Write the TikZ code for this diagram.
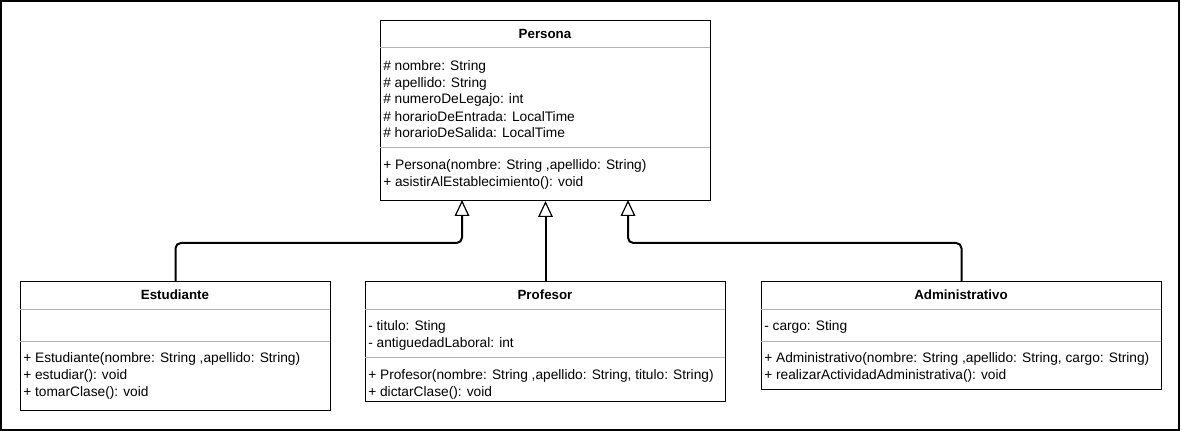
\documentclass[tikz,border=0pt]{standalone}
\usepackage{fontspec}
\setmainfont{Liberation Sans}
\usetikzlibrary{arrows.meta}
\begin{document}
\begin{tikzpicture}[x=0.75pt,y=-0.75pt,
  classbox/.style={draw,line width=0.75pt,anchor=north west,inner sep=0pt},
  divider/.style={black!30,line width=0.75pt},
  classname/.style={yshift=-0.8pt,font=\bfseries\fontsize{10}{11}\selectfont},
  member/.style={anchor=west,inner sep=0pt,yshift=-1.1pt,font=\fontsize{10.3}{11}\selectfont},
  extends/.style={line width=1.5pt,rounded corners=4pt,
    -{Triangle[open,length=12pt,width=11pt,line width=0.9pt]}}]
  \useasboundingbox (0,0) rectangle (1182,431);
  \draw [line width=1pt] (1,1) rectangle (1179,430);
  % Persona
  \node [classbox,minimum width=247.5pt,minimum height=135pt] (persona) at (380,20) {};
  \draw [divider] (380,48) -- (710,48);
  \draw [divider] (380,148) -- (710,148);
  \node [classname] (personaName) at (545,33) {Persona};
  \node [member] (pNombre) at (383,65) {\# nombre: String};
  \node [member] (pApellido) at (383,82) {\# apellido: String};
  \node [member] (pLegajo) at (383,98) {\# numeroDeLegajo: int};
  \node [member] (pEntrada) at (383,115) {\# horarioDeEntrada: LocalTime};
  \node [member] (pSalida) at (383,131) {\# horarioDeSalida: LocalTime};
  \node [member] (pCtor) at (383,164) {+ Persona(nombre: String ,apellido: String)};
  \node [member] (pAsistir) at (383,181) {+ asistirAlEstablecimiento(): void};
  % Estudiante
  \node [classbox,minimum width=232.5pt,minimum height=96.75pt] (estudiante) at (20,281) {};
  \draw [divider] (20,309) -- (330,309);
  \draw [divider] (20,341) -- (330,341);
  \node [classname] (estudianteName) at (175,294) {Estudiante};
  \node [member] (eCtor) at (23,357) {+ Estudiante(nombre: String ,apellido: String)};
  \node [member] (eEstudiar) at (23,374) {+ estudiar(): void};
  \node [member] (eTomar) at (23,391) {+ tomarClase(): void};
  % Profesor
  \node [classbox,minimum width=270pt,minimum height=90pt] (profesor) at (365,281) {};
  \draw [divider] (365,309) -- (725,309);
  \draw [divider] (365,357) -- (725,357);
  \node [classname] (profesorName) at (545,294) {Profesor};
  \node [member] (fTitulo) at (368,325) {- titulo: Sting};
  \node [member] (fAntiguedad) at (368,342) {- antiguedadLaboral: int};
  \node [member] (fCtor) at (368,374) {+ Profesor(nombre: String ,apellido: String, titulo: String)};
  \node [member] (fDictar) at (368,391) {+ dictarClase(): void};
  % Administrativo
  \node [classbox,minimum width=300pt,minimum height=81pt] (administrativo) at (761,281) {};
  \draw [divider] (761,309) -- (1161,309);
  \draw [divider] (761,341) -- (1161,341);
  \node [classname] (administrativoName) at (961,294) {Administrativo};
  \node [member] (aCargo) at (764,325) {- cargo: Sting};
  \node [member] (aCtor) at (764,357) {+ Administrativo(nombre: String ,apellido: String, cargo: String)};
  \node [member] (aRealizar) at (764,374) {+ realizarActividadAdministrativa(): void};
  % herencia
  \coordinate (bus) at (0,243);
  \coordinate (toEstudiante) at (462,200);
  \coordinate (toAdministrativo) at (628,200);
  \draw [extends] (estudiante.north) -- (estudiante.north |- bus) -| (toEstudiante);
  \draw [extends] (profesor.north) -- (persona.south);
  \draw [extends] (administrativo.north) -- (administrativo.north |- bus) -| (toAdministrativo);
\end{tikzpicture}
\end{document}
